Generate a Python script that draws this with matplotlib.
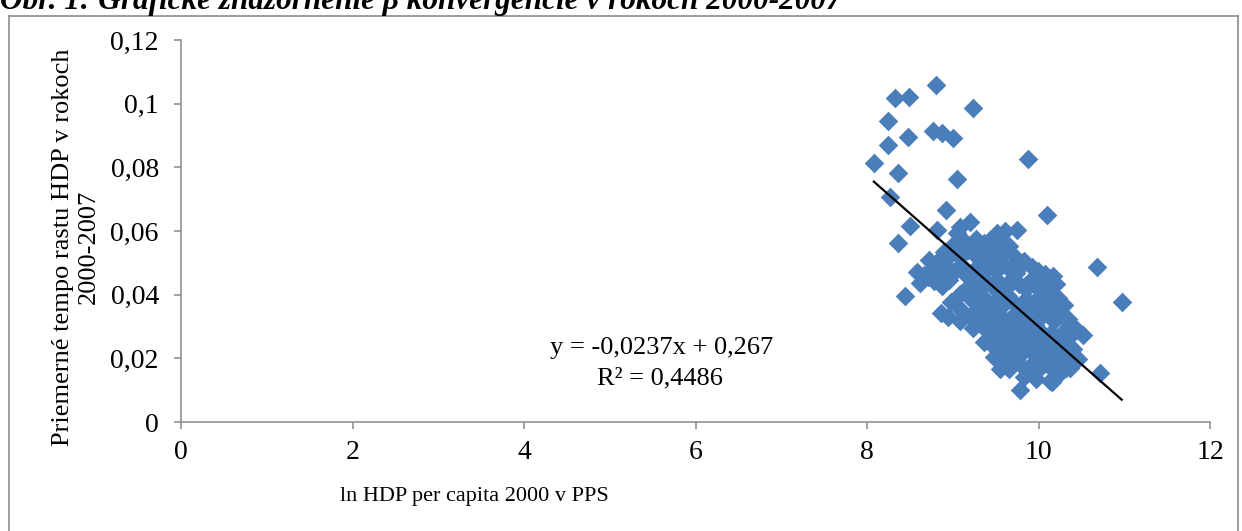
import matplotlib
matplotlib.use("Agg")
import matplotlib.pyplot as plt
from matplotlib.ticker import FuncFormatter, MultipleLocator
from matplotlib.lines import Line2D

plt.rcParams['font.family'] = ['Liberation Serif', 'DejaVu Serif']

# ln HDP per capita 2000 (x) a priemerne tempo rastu 2000-2007 (y), odcitane z obrazka
outliers_x = [8.33, 8.49, 8.80, 9.24, 8.24, 8.48, 8.77, 8.87, 9.00, 8.08, 8.24, 8.36,
              9.88, 9.05, 8.27, 8.92, 10.10, 8.50, 8.82, 10.68, 10.97, 10.72, 9.78]
outliers_y = [0.1018, 0.1021, 0.1058, 0.0986, 0.0945, 0.0895, 0.0914, 0.0908, 0.0892, 0.0814, 0.0870, 0.0782,
              0.0826, 0.0763, 0.0707, 0.0666, 0.0650, 0.0616, 0.0603, 0.0487, 0.0378, 0.0154, 0.0100]

cluster_x = [9.08, 9.20, 9.52, 9.61, 9.75,
             9.05, 9.13, 9.00, 9.27, 9.36, 9.44, 9.56, 9.66, 8.36,
             8.90, 8.97, 9.08, 9.18, 9.30, 9.38, 9.41, 9.48, 9.53, 9.60, 9.72, 9.83, 8.82, 8.72,
             8.58, 8.66, 8.76, 8.84, 8.93, 9.02, 9.10, 9.17, 9.26, 9.34, 9.43, 9.51, 9.58, 9.66, 9.74,
             9.80, 9.92, 9.99, 10.17, 10.08, 8.71,
             8.62, 8.78, 8.88, 8.96, 9.24, 9.31, 9.38, 9.46, 9.54, 9.62, 9.69, 9.77, 9.85, 9.90,
             9.97, 10.04, 10.12, 10.20, 8.44, 9.08, 9.16,
             8.98, 9.06, 9.22, 9.29, 9.36, 9.42, 9.50, 9.57, 9.64, 9.71, 9.79, 9.86, 9.93, 10.00,
             10.07, 10.14, 10.23, 10.30, 9.97,
             8.86, 8.94, 9.12, 9.20, 9.33, 9.40, 9.48, 9.55, 9.62, 9.68, 9.75, 9.82, 9.89, 9.96,
             10.03, 10.10, 10.18, 10.26, 10.34, 10.40, 9.08,
             9.24, 9.40, 9.46, 9.53, 9.60, 9.67, 9.73, 9.80, 9.87, 9.94, 10.01, 10.08, 10.15, 10.22,
             10.29, 10.36, 10.52, 10.44,
             9.36, 9.47, 9.55, 9.63, 9.70, 9.77, 9.84, 9.91, 9.98, 10.05, 10.12, 10.19, 10.26, 10.33,
             10.40, 9.60, 10.46,
             9.48, 9.58, 9.66, 9.74, 9.81, 9.88, 9.95, 10.02, 10.10, 10.17, 10.24, 10.32, 9.55, 10.37,
             9.83, 9.97, 10.13, 10.21, 10.16]
cluster_y = [0.0613, 0.0628, 0.0594, 0.0600, 0.0603,
             0.0593, 0.0570, 0.0555, 0.0575, 0.0562, 0.0572, 0.0566, 0.0553, 0.0562,
             0.0535, 0.0525, 0.0518, 0.0541, 0.0515, 0.0548, 0.0507, 0.0538, 0.0502, 0.0530, 0.0522, 0.0505, 0.0502, 0.0508,
             0.0470, 0.0462, 0.0478, 0.0465, 0.0486, 0.0472, 0.0494, 0.0459, 0.0481, 0.0468, 0.0489, 0.0473, 0.0496, 0.0482, 0.0469,
             0.0490, 0.0488, 0.0473, 0.0460, 0.0466, 0.0455,
             0.0436, 0.0442, 0.0428, 0.0447, 0.0435, 0.0418, 0.0445, 0.0427, 0.0440, 0.0421, 0.0448, 0.0433, 0.0417, 0.0443,
             0.0428, 0.0439, 0.0412, 0.0432, 0.0397, 0.0402, 0.0418,
             0.0378, 0.0362, 0.0384, 0.0368, 0.0391, 0.0357, 0.0382, 0.0365, 0.0395, 0.0374, 0.0358, 0.0387, 0.0369, 0.0392,
             0.0376, 0.0359, 0.0390, 0.0368, 0.0352,
             0.0342, 0.0331, 0.0345, 0.0334, 0.0322, 0.0346, 0.0315, 0.0337, 0.0308, 0.0328, 0.0345, 0.0318, 0.0336, 0.0305,
             0.0329, 0.0342, 0.0316, 0.0335, 0.0322, 0.0302, 0.0318,
             0.0295, 0.0285, 0.0268, 0.0292, 0.0259, 0.0281, 0.0265, 0.0295, 0.0272, 0.0256, 0.0288, 0.0263, 0.0279, 0.0255,
             0.0284, 0.0268, 0.0273, 0.0290,
             0.0252, 0.0238, 0.0219, 0.0245, 0.0226, 0.0208, 0.0241, 0.0222, 0.0246, 0.0212, 0.0235, 0.0218, 0.0242, 0.0205,
             0.0228, 0.0203, 0.0198,
             0.0205, 0.0182, 0.0168, 0.0193, 0.0175, 0.0158, 0.0189, 0.0171, 0.0195, 0.0162, 0.0184, 0.0170, 0.0165, 0.0170,
             0.0142, 0.0135, 0.0128, 0.0145, 0.0125]

x_all = outliers_x + cluster_x
y_all = outliers_y + cluster_y

# trend line from Excel
slope = -0.0237
intercept = 0.267
eq_text = "y = -0,0237x + 0,267"
r2_text = "R² = 0,4486"

x_ticks = [0, 2, 4, 6, 8, 10, 12]

fig = plt.figure(figsize=(12.42, 5.31), dpi=100)
ax = fig.add_axes([181/1242, 1 - 422/531, 1029/1242, 382/531])

ax.scatter(x_all, y_all, marker='D', s=100, color='#4a7ebb', linewidths=0, zorder=2)

x0, x1 = min(x_all), max(x_all)
ax.plot([x0, x1], [slope*x0 + intercept, slope*x1 + intercept], color='black', lw=1.6, zorder=3)

ax.text(5.60, 0.0233, eq_text, ha='center', va='center', fontsize=19)
ax.text(5.58, 0.0138, r2_text, ha='center', va='center', fontsize=19)

ax.set_xlim(0, 12)
ax.set_ylim(0, 0.12)
ax.set_xticks(x_ticks)
ax.yaxis.set_major_locator(MultipleLocator(0.02))
ax.yaxis.set_major_formatter(FuncFormatter(lambda v, p: ('%g' % round(v, 4)).replace('.', ',')))

for s in ['top', 'right']:
    ax.spines[s].set_visible(False)
for s in ['left', 'bottom']:
    ax.spines[s].set_color('#898989')
    ax.spines[s].set_linewidth(1.1)
ax.tick_params(axis='both', colors='#898989', labelcolor='black', labelsize=20, length=5, width=1.1)
ax.tick_params(axis='y', pad=11)
ax.tick_params(axis='x', pad=8)

fig.text(76/1242, 1 - 247/531, "Priemerné tempo rastu HDP v rokoch\n2000-2007", rotation=90,
         ha='center', va='center', fontsize=19, linespacing=1.2, multialignment='center')
fig.text(340/1242, 1 - 497/531, "ln HDP per capita 2000 v PPS", ha='left', va='center', fontsize=16)

# cut-off caption at the top
fig.text(0, 1 - 9/531, "Obr. 1: Grafické znázornenie β konvergencie v rokoch 2000-2007",
         ha='left', va='baseline', fontsize=22.5, fontweight='bold', style='italic')

# frame around chart
frame = '#8c8c8c'
fig.add_artist(Line2D([9/1242, 9/1242], [0, 1 - 16/531], color=frame, lw=1.2, transform=fig.transFigure))
fig.add_artist(Line2D([9/1242, 1238/1242], [1 - 16/531, 1 - 16/531], color=frame, lw=1.2, transform=fig.transFigure))
fig.add_artist(Line2D([1238/1242, 1238/1242], [0, 1 - 16/531], color=frame, lw=1.2, transform=fig.transFigure))

fig.savefig("out.png", dpi=100)
